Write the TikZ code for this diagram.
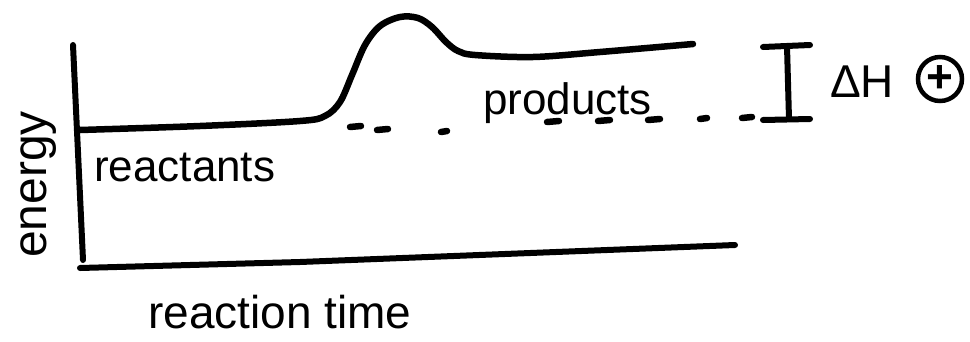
\documentclass[tikz,border=0pt]{standalone}
\usepackage{fontspec}
\setmainfont{Liberation Sans}
\begin{document}
\begin{tikzpicture}[x=1pt,y=-1pt,
  ink/.style={line width=6pt,line cap=round,line join=round},
  dashmark/.style={line width=6.5pt,line cap=round},
  lbl/.style={inner sep=0pt,font=\fontsize{44}{48}\selectfont}]
\useasboundingbox (0,0) rectangle (970,341);
% axes
\draw[ink] (73,45) -- (83,260);
\draw[ink] (80,268) -- (300,262) -- (735,245);
% energy curve
\draw[ink,line width=6.5pt] plot[smooth,tension=0.55] coordinates {
  (80,130) (200,126) (300,121) (325,116) (340,102) (352,75) (365,45)
  (380,26) (400,17) (418,18) (432,27) (446,42) (458,51) (475,55)
  (533,57) (600,52) (693,44)};
% dotted reference line
\foreach \xa/\xb/\yy in {350/361/127, 377/388/130, 441/447/132, 547/559/122,
  598/610/121, 648/660/120, 700/707/119, 742/752/118}
  \draw[dashmark] (\xa,\yy) -- (\xb,\yy-1);
% Delta H bracket
\draw[ink] (763,47) -- (810,45);
\draw[ink] (787,46) -- (789,119);
\draw[ink] (763,120) -- (810,119);
% labels
\node[lbl,anchor=base west] (reactants) at (94,181) {reactants};
\node[lbl,anchor=base west] (products) at (483,114) {products};
\node[lbl,anchor=base west,font=\fontsize{46}{50}\selectfont] (time) at (148,328) {reaction time};
\node[lbl,anchor=base west,rotate=90,font=\fontsize{48}{52}\selectfont] (energy) at (46,258) {energy};
\node[lbl,anchor=base west,font=\fontsize{46}{50}\selectfont] (dh) at (830,97) {ΔH};
\draw[line width=4.5pt] (940,79) circle[radius=22pt];
\node[inner sep=0pt,font=\fontsize{46}{50}\selectfont\bfseries] (plus) at (940,79) {+};
\end{tikzpicture}
\end{document}
